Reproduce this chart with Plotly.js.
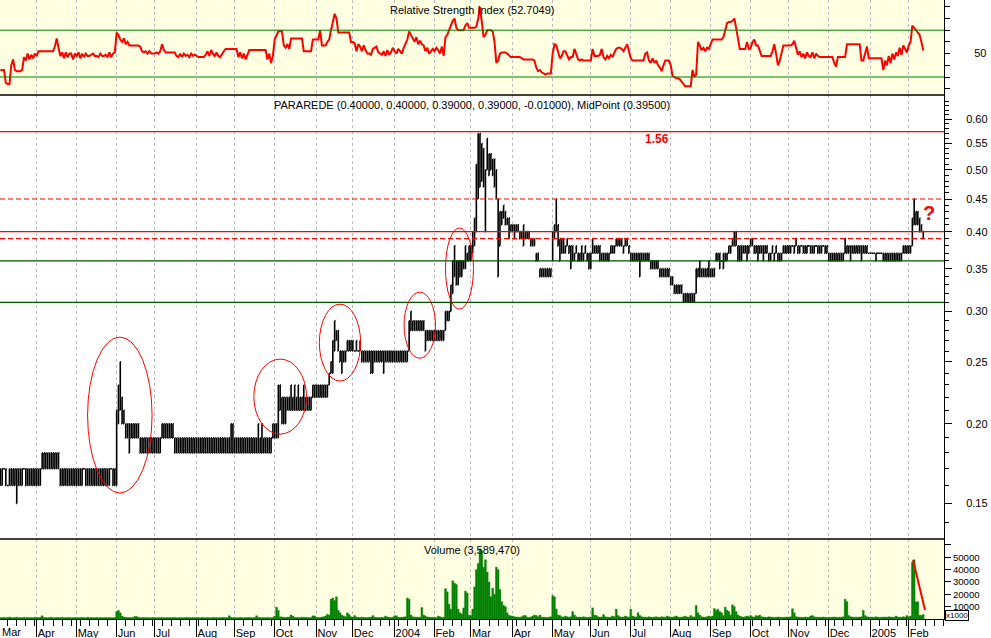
<!DOCTYPE html>
<html><head><meta charset="utf-8">
<script src="https://cdn.plot.ly/plotly-3.0.1.min.js"></script>
<style>html,body{margin:0;padding:0;background:#fff}#chart{width:991px;height:638px}</style>
</head><body><div id="chart"></div>
<script>
// ---------- DATA (one value per trading day, first day 2003-03-04) ----------
const firstDay = '2003-03-04';
// daily high, in cents
const high = [
17,17,17,17,16,17,17,17,17,17,17,17,17,17,17,17,17,17,17,17, // Mar 03
17,17,17,18,18,18,18,18,18,18,18,18,18,17,17,17,17,17,17,17,17,17, // Apr
17,17,17,17,17,17,17,17,17,17,17,17,17,17,17,17,17,17,17,17,17,17, // May
21,23,25,22,21,20,20,20,20,20,20,20,20,19,19,19,19,19,19,19,19, // Jun
19,19,19,19,20,20,20,20,20,20,20,19,19,19,19,19,19,19,19,19,19,19,19, // Jul
19,19,19,19,19,19,19,19,19,19,19,19,19,19,19,19,19,19,19,20,20, // Aug
19,19,19,19,19,19,19,19,19,19,19,19,19,20,19,20,19,19,19,19,19,20, // Sep
20,20,23,23,22,22,22,22,22,23,22,23,22,23,22,22,23,22,22,22,22,23,23, // Oct
23,23,23,23,23,23,23,24,25,27,29,28,28,26,26,26,26,27,27,27, // Nov
27,26,27,26,27,26,26,26,26,26,26,26,26,26,26,26,26,26,26,26,26,26,26, // Dec
26,26,26,26,26,26,26,26,29,30,29,29,29,29,29,29,29,28,28,28,28,28, // Jan 04
28,28,28,28,28,28,30,30,30,33,36,38,36,36,36,36,36,38,37,38, // Feb
38,40,42,51,57,57,55,54,50,56,53,53,52,52,50,45,43,43,44,43,42,42,41, // Mar
41,41,41,41,40,40,41,40,40,40,39,39,39,37,37,35,35,35,35,35,35,35, // Apr
40,41,45,41,39,39,39,38,39,38,38,38,37,38,37,37,38,37,38,37,37, // May
37,39,38,38,38,38,37,37,37,37,37,38,38,38,39,39,39,39,38,39,39,38, // Jun
37,37,37,37,37,37,37,37,37,37,37,36,36,36,36,36,35,35,35,35,35,35, // Jul
34,34,33,33,33,33,33,32,32,32,32,32,32,32,35,35,36,35,35,35,35,36, // Aug
35,35,35,37,37,37,36,37,37,37,38,38,39,40,40,38,38,38,38,38,38,38, // Sep
39,39,38,38,38,38,38,38,38,38,37,37,38,37,38,37,37,37,38,38,38, // Oct
38,38,38,38,39,38,38,38,38,38,38,38,38,38,38,38,38,38,38,38,38,38, // Nov
37,37,37,37,37,37,37,37,37,39,38,38,38,38,38,38,38,38,38,38,38,38,37, // Dec
37,37,37,37,37,37,37,37,37,37,37,37,37,37,37,37,37,37,38,38,38, // Jan 05
38,38,42,45,43,43,42,41,40 // Feb
];
// daily low, in cents
const low = [
16,16,17,16,16,16,16,16,16,15,16,16,16,17,16,16,16,16,16,16,
16,16,16,17,17,17,17,17,17,17,17,17,17,16,16,16,16,16,16,16,16,16,
16,16,16,16,17,16,16,16,16,16,16,16,16,16,16,16,16,16,16,17,16,16,
16,20,21,20,20,19,19,18,19,19,19,19,19,18,18,18,18,18,18,18,18,
18,18,18,18,19,19,19,19,19,19,19,18,18,18,18,18,18,18,18,18,18,18,18,
18,18,18,18,18,18,18,18,18,18,18,18,18,18,18,18,18,18,18,18,18,
18,18,18,18,18,18,18,18,18,18,18,18,18,18,18,18,18,18,18,18,18,19,
19,19,19,21,20,20,20,21,21,21,21,21,21,21,21,21,21,21,21,21,21,22,22,
22,22,22,22,22,22,22,23,24,24,26,27,26,25,24,25,25,26,26,26,
26,26,26,26,26,25,25,25,25,25,24,24,25,25,25,25,25,24,25,25,25,25,25,
25,25,25,25,25,25,25,25,26,28,28,28,28,28,28,28,28,26,27,27,27,27,
27,27,27,27,27,27,28,29,29,30,32,34,33,33,34,34,35,35,36,36,
36,37,38,40,45,47,48,47,40,50,49,50,49,47,45,34,38,41,42,41,41,39,40,
40,39,40,40,39,39,38,39,39,39,38,38,38,36,36,34,34,34,34,34,34,34,
36,39,40,38,36,37,37,37,38,37,35,36,36,37,36,36,36,36,37,36,35,
35,37,37,37,37,36,36,36,36,36,36,37,37,37,38,38,38,38,37,38,38,37,
36,36,36,36,36,34,36,36,36,36,36,35,35,35,35,35,34,34,34,34,34,34,
33,33,32,32,32,32,32,31,31,31,31,31,31,31,32,34,34,34,34,34,34,34,
34,34,34,36,36,35,36,35,36,36,37,37,38,38,38,36,36,36,37,37,36,37,
38,38,37,37,36,37,37,36,37,37,36,36,37,36,37,36,36,36,37,37,37,
37,37,38,37,38,37,37,38,37,37,37,38,37,37,37,38,37,37,37,38,37,37,
36,36,36,36,36,36,36,36,36,37,37,37,36,37,37,37,37,37,36,37,37,37,37,
37,37,37,36,37,37,37,36,36,36,36,36,36,36,36,36,36,36,37,37,37,
37,37,38,41,41,41,40,40,39
];
// daily volume, in thousands
const volume = [
1300,1100,1400,1000,1200,1600,1100,1000,1300,1500,1100,1200,1000,1400,1100,1300,1000,1200,1100,1400,
1200,1000,1400,2600,1300,1100,1000,1200,1400,1100,1000,1300,1200,1100,1400,1000,1200,1100,1300,1000,1100,1200,
1100,1000,1200,1300,1100,1000,1400,1100,1200,1000,1100,1300,1000,1200,1100,1000,1300,1100,1200,1000,1100,1200,
6000,7000,5000,2400,1600,1400,1300,1200,1100,1300,2000,2000,1400,1200,1100,1300,1000,1200,1100,1000,1200,
1100,1000,1200,1100,1300,1000,1100,1200,1000,1100,1300,1200,1000,1100,1200,1000,1100,1300,1200,1100,1000,1200,1100,
1100,1200,1000,1300,1100,1000,1200,1100,1000,1300,1100,1200,1000,1100,1200,1300,1000,1100,2600,1400,1100,
1200,1000,1100,1300,1100,1000,1200,1100,1300,1000,1100,1200,2600,1400,1100,1000,1200,1100,1300,1000,1100,1200,
2400,9600,7000,1800,1600,1400,1300,1500,1600,3200,2400,1400,1300,1200,1100,1500,1300,1400,1200,1100,1300,2600,2400,
1400,1300,1200,1600,1800,2400,3800,3200,16000,17000,15000,18000,7000,5000,3200,2400,1800,5000,3600,1800,
1500,2800,1600,1300,1200,1500,1300,1100,1200,1400,1500,2800,1600,1300,1100,1200,1400,1300,2400,1600,1300,1200,1400,
2600,2600,1500,1300,1400,1600,1800,17000,16000,3200,1800,1600,1500,1400,1500,9300,3200,2400,1600,1500,1400,1300,
1500,1000,2400,1800,1300,1500,24600,22000,12000,8000,31000,29000,28000,8000,5000,4000,9000,22600,21000,3000,
3000,8000,26000,40000,45000,57000,55000,42000,48000,38000,30000,18000,25000,20000,42000,40000,24000,14000,11000,10000,5000,3000,2500,
2400,1800,1600,1500,1400,1800,2800,2800,1500,1300,1600,2400,3200,2800,1800,3200,1600,1500,1400,1300,1500,1800,
19000,18000,8000,3200,2800,1800,1600,2400,1800,1500,1800,6000,3200,1800,1500,1600,1400,1800,1500,1300,1500,
1600,9000,3200,2800,1800,1500,1600,3600,1800,1500,1400,1600,2400,1800,8000,2800,1800,1500,1600,2400,1800,1500,
8000,2400,1800,1600,5000,2800,1800,1500,1600,1400,1800,1500,1300,1600,1800,1500,1400,1800,1600,1500,2400,1800,
1600,1500,1800,2400,1600,1400,1500,1800,2400,1600,1500,2800,1800,1600,11000,5000,3200,1800,1600,1500,1800,2400,
1800,2400,8500,7000,8000,6000,5000,2800,9600,7000,6000,3200,11500,10000,6000,3200,2400,1800,1600,1800,2400,1800,
2800,1800,1600,2800,2400,3200,1800,1600,1500,1400,1800,1600,1500,1300,1400,1600,1500,1300,1400,1500,1600,
1500,1800,8300,5000,1800,1600,1500,1400,1300,1600,1500,1400,2400,2800,1800,1500,1400,1300,1500,1600,1400,1300,
1400,1300,1500,1600,1400,1300,1500,1400,1800,16000,14000,2800,1800,1600,1500,1400,1500,1600,1800,7000,2800,1800,1600,
1600,1500,1400,1800,1500,1300,1400,1600,1500,1400,1800,1600,1500,1400,2400,1600,1500,1400,1800,1600,2800,
1800,2400,46000,48000,13800,14000,3000,3000,3589
];
// Relative Strength Index
const rsi = [
36,36,36,25,24,24,40,45,36,35,35,35,36,47,44,50,45,49,46,50,
48,52,52,52,52,52,52,52,52,52,56,63,55,48,51,46,51,47,50,50,45,50,
48,51,46,50,47,50,48,48,49,50,48,48,47,50,48,48,49,47,51,47,50,51,
68,66,62,60,63,58,60,57,57,57,57,57,57,56,52,51,52,50,52,50,50,
50,51,50,52,58,53,51,51,51,51,51,51,48,47,50,47,50,48,49,47,50,48,49,
48,47,47,47,47,49,52,48,53,50,48,51,48,47,50,52,54,54,54,54,54,
54,54,47,51,46,50,45,50,53,53,53,53,53,53,53,53,53,53,45,50,42,48,
62,66,69,69,69,57,55,58,54,63,63,63,63,63,63,63,52,52,52,52,52,62,62,
62,62,70,57,57,57,60,62,70,78,84,80,68,68,68,68,68,68,68,60,
60,59,52,58,56,52,57,53,50,50,49,54,55,56,51,50,49,52,48,53,49,51,55,
52,50,54,52,50,55,58,62,69,66,62,60,64,58,61,58,57,52,55,50,52,54,
52,55,53,50,56,48,64,66,70,74,78,80,72,70,70,70,70,74,76,72,
72,72,72,73,80,90,76,64,66,70,70,70,69,60,42,44,50,51,51,51,50,48,47,
47,47,47,47,47,46,45,45,45,45,45,45,44,38,35,36,34,33,32,33,33,33,
50,58,57,52,46,48,52,52,48,45,47,47,54,50,45,44,45,44,44,44,44,
44,54,48,48,48,49,54,47,45,48,46,49,47,51,54,55,55,54,52,55,58,52,
46,44,44,44,44,44,44,44,50,51,44,42,46,42,44,40,38,35,40,44,44,44,
40,31,30,29,29,28,26,24,22,22,22,22,36,30,32,60,57,53,55,52,55,54,
58,62,62,62,62,62,62,64,70,76,77,77,78,80,72,62,54,54,54,54,60,54,
55,60,62,57,57,52,48,48,48,48,48,48,52,58,50,40,44,50,57,57,57,
57,57,58,61,55,49,52,47,50,46,51,48,47,51,46,50,48,47,47,47,47,47,
47,47,47,42,39,47,47,47,47,47,58,58,58,58,58,58,58,58,44,44,50,56,46,
46,46,46,46,46,46,46,36,44,40,48,42,50,45,51,48,55,49,57,54,51,
57,60,74,72,70,69,66,60,52.7
];
// month ticks (first trading day of each month) and their labels
const monthTicks = ['2003-04-01','2003-05-01','2003-06-02','2003-07-01','2003-08-01','2003-09-01','2003-10-01','2003-11-03','2003-12-01',
  '2004-01-01','2004-02-02','2004-03-01','2004-04-01','2004-05-03','2004-06-01','2004-07-01','2004-08-02','2004-09-01','2004-10-01','2004-11-01','2004-12-01',
  '2005-01-03','2005-02-01'];
const monthLabels = ['Apr','May','Jun','Jul','Aug','Sep','Oct','Nov','Dec','2004','Feb','Mar','Apr','May','Jun','Jul','Aug','Sep','Oct','Nov','Dec','2005','Feb'];
const priceTicks = [0.15,0.20,0.25,0.30,0.35,0.40,0.45,0.50,0.55,0.60];
const volTicks = [10000,20000,30000,40000,50000,60000];
const rsiTicks = [20,30,40,50,60,70,80,90];
// horizontal reference levels drawn on the price panel
const redSolidLevels = [0.574, 0.40];
const redDashLevels = [0.45, 0.39];
const greenLevels = [0.36, 0.31];
const rsiBands = [70, 30];
// hand-drawn ellipses [startDate, endDate, lowPrice, highPrice]
const ellipses = [
  ['2003-05-09','2003-06-27 12:00',0.1557,0.2734],
  ['2003-09-15 12:00','2003-10-24 12:00',0.1926,0.2525],
  ['2003-11-04 14:00','2003-12-05 07:00',0.2333,0.3079],
  ['2004-01-08 05:00','2004-02-02 12:00',0.2533,0.3216],
  ['2004-02-10','2004-03-02 10:00',0.3025,0.4053]
];

// ---------- BUILD ----------
function tradingDays(start, n){
  const out=[]; const d=new Date(start+'T00:00:00Z');
  while(out.length<n){const w=d.getUTCDay(); if(w!==0&&w!==6) out.push(d.toISOString().slice(0,10)); d.setUTCDate(d.getUTCDate()+1);}
  return out;
}
const dates = tradingDays(firstDay, high.length);
const hiP = high.map(v=>v/100), loP = low.map(v=>v/100);

const dVol=[0,0.1292], dPrice=[0.1292,0.8465], dRsi=[0.8465,1];
const FONT='"Liberation Sans", Arial, Helvetica, sans-serif';
const YEL='#FFFFE1';

const traces = [
  {type:'scatter', mode:'lines', x:dates, y:rsi, xaxis:'x', yaxis:'y', line:{color:'#FF0000', width:2}, hoverinfo:'skip'},
  {type:'ohlc', x:dates, open:loP, high:hiP, low:loP, close:hiP, xaxis:'x', yaxis:'y2', tickwidth:0.5,
    increasing:{line:{color:'#000', width:1.6}}, decreasing:{line:{color:'#000', width:1.6}}, hoverinfo:'skip'},
  {type:'bar', x:dates, y:volume, xaxis:'x', yaxis:'y3', marker:{color:'#008000', line:{width:0.4, color:'#008000'}}, hoverinfo:'skip'}
];

const minorPrice=[];
for(let c=13;c<=65;c++){ if(c%5!==0) minorPrice.push(c/100); }

const shapes = [
  {type:'rect', xref:'paper', yref:'paper', x0:0, x1:1, y0:dRsi[0], y1:dRsi[1], fillcolor:YEL, line:{width:0}, layer:'below'},
  {type:'rect', xref:'paper', yref:'paper', x0:0, x1:1, y0:dVol[0], y1:dVol[1], fillcolor:YEL, line:{width:0}, layer:'below'},
  {type:'line', xref:'paper', yref:'paper', x0:0, x1:1, y0:dRsi[0], y1:dRsi[0], line:{color:'#000', width:1.5}},
  {type:'line', xref:'paper', yref:'paper', x0:0, x1:1, y0:dPrice[0], y1:dPrice[0], line:{color:'#000', width:1.5}}
];
rsiBands.forEach(v=>shapes.push({type:'line', xref:'paper', yref:'y', x0:0, x1:1, y0:v, y1:v, line:{color:'#008000', width:1}}));
redSolidLevels.forEach(v=>shapes.push({type:'line', xref:'paper', yref:'y2', x0:0, x1:1, y0:v, y1:v, line:{color:'#FF0000', width:1.2}}));
redDashLevels.forEach(v=>shapes.push({type:'line', xref:'paper', yref:'y2', x0:0, x1:1, y0:v, y1:v, line:{color:'#FF0000', width:1.2, dash:'5px,3px'}}));
greenLevels.forEach(v=>shapes.push({type:'line', xref:'paper', yref:'y2', x0:0, x1:1, y0:v, y1:v, line:{color:'#005000', width:1.2}}));
ellipses.forEach(e=>shapes.push({type:'circle', xref:'x', yref:'y2', x0:e[0], x1:e[1], y0:e[2], y1:e[3], line:{color:'#FF0000', width:1}}));
shapes.push({type:'line', xref:'x', yref:'y3', x0:'2005-02-03 09:00', x1:'2005-02-11 23:00', y0:47800, y1:7300, line:{color:'#FF0000', width:2}});

const annotations = [
  {xref:'paper', yref:'paper', x:0.5, y:0.9838, yanchor:'middle', text:'Relative Strength Index (52.7049)', showarrow:false, font:{family:FONT, size:11, color:'#000'}},
  {xref:'paper', yref:'paper', x:0.5, y:0.8304, yanchor:'middle', text:'PARAREDE (0.40000, 0.40000, 0.39000, 0.39000, -0.01000), MidPoint (0.39500)', showarrow:false, font:{family:FONT, size:11, color:'#000'}},
  {xref:'paper', yref:'paper', x:0.5, y:0.1115, yanchor:'middle', text:'Volume (3,589,470)', showarrow:false, font:{family:FONT, size:11, color:'#000'}},
  {xref:'x', yref:'y2', x:'2004-07-21 17:00', y:Math.log10(0.5587), yanchor:'middle', text:'<b>1.56</b>', showarrow:false, font:{family:FONT, size:12, color:'#FF0000'}},
  {xref:'x', yref:'y2', x:'2005-02-16 05:00', y:Math.log10(0.4278), yanchor:'middle', text:'<b>?</b>', showarrow:false, font:{family:FONT, size:20, color:'#FF0000'}},
  {xref:'paper', yref:'paper', x:0, y:-0.021, xanchor:'left', yanchor:'middle', text:'Mar', showarrow:false, font:{family:FONT, size:11, color:'#000'}},
  {xref:'paper', yref:'paper', x:1.0015, y:-0.004, xanchor:'left', yanchor:'bottom', text:'x1000', showarrow:false, font:{family:FONT, size:8, color:'#000'}, bgcolor:'#fff', bordercolor:'#000', borderwidth:1, borderpad:0}
];

const layout = {
  width:991, height:638, margin:{l:0, r:47, t:0, b:19, pad:0},
  paper_bgcolor:'#fff', plot_bgcolor:'#fff', showlegend:false, bargap:0,
  font:{family:FONT, size:11, color:'#000'},
  xaxis:{type:'date', anchor:'y3', domain:[0,1], range:['2003-03-03 19:00','2005-02-28 10:00'],
    rangebreaks:[{pattern:'day of week', bounds:[6,1]}], rangeslider:{visible:false},
    tickmode:'array', tickvals:monthTicks, ticktext:monthLabels, ticks:'outside', ticklen:17, tickwidth:1, tickcolor:'#000',
    ticklabelposition:'outside right', ticklabelstandoff:4, tickfont:{family:FONT, size:11, color:'#000'},
    showgrid:true, gridcolor:'#BDBDBD', griddash:'3px,3px', gridwidth:1,
    showline:true, linecolor:'#000', linewidth:1, zeroline:false,
    minor:{ticks:'outside', ticklen:6, tickcolor:'#000', tickwidth:1, dtick:7*86400000, tick0:'2003-03-03', showgrid:false}},
  yaxis:{domain:dRsi, anchor:'x', side:'right', range:[14.6,95.8], tickmode:'array', tickvals:rsiTicks,
    ticktext:rsiTicks.map(v=>v===50?'50':''), ticks:'outside', ticklen:5, tickcolor:'#000', ticklabelstandoff:22,
    showline:true, linecolor:'#000', linewidth:1, showgrid:false, zeroline:false},
  yaxis2:{domain:dPrice, anchor:'x', side:'right', type:'log', range:[Math.log10(0.1319), Math.log10(0.655)],
    tickmode:'array', tickvals:priceTicks, ticktext:priceTicks.map(v=>v.toFixed(2)), ticks:'outside', ticklen:7, tickcolor:'#000',
    ticklabelstandoff:12, minor:{tickmode:'array', tickvals:minorPrice, ticks:'outside', ticklen:4, tickcolor:'#000', showgrid:false},
    showline:true, linecolor:'#000', linewidth:1, showgrid:false, zeroline:false},
  yaxis3:{domain:dVol, anchor:'x', side:'right', range:[0,64800], tickmode:'array', tickvals:volTicks,
    ticktext:volTicks.map(v=>v===60000?'':String(v)), ticks:'outside', ticklen:6, tickcolor:'#000', ticklabelstandoff:0,
    tickfont:{family:FONT, size:9.6, color:'#000'},
    showline:true, linecolor:'#000', linewidth:1, showgrid:false, zeroline:false},
  shapes:shapes, annotations:annotations
};

Plotly.newPlot('chart', traces, layout, {staticPlot:true, displayModeBar:false});
</script>
</body></html>
